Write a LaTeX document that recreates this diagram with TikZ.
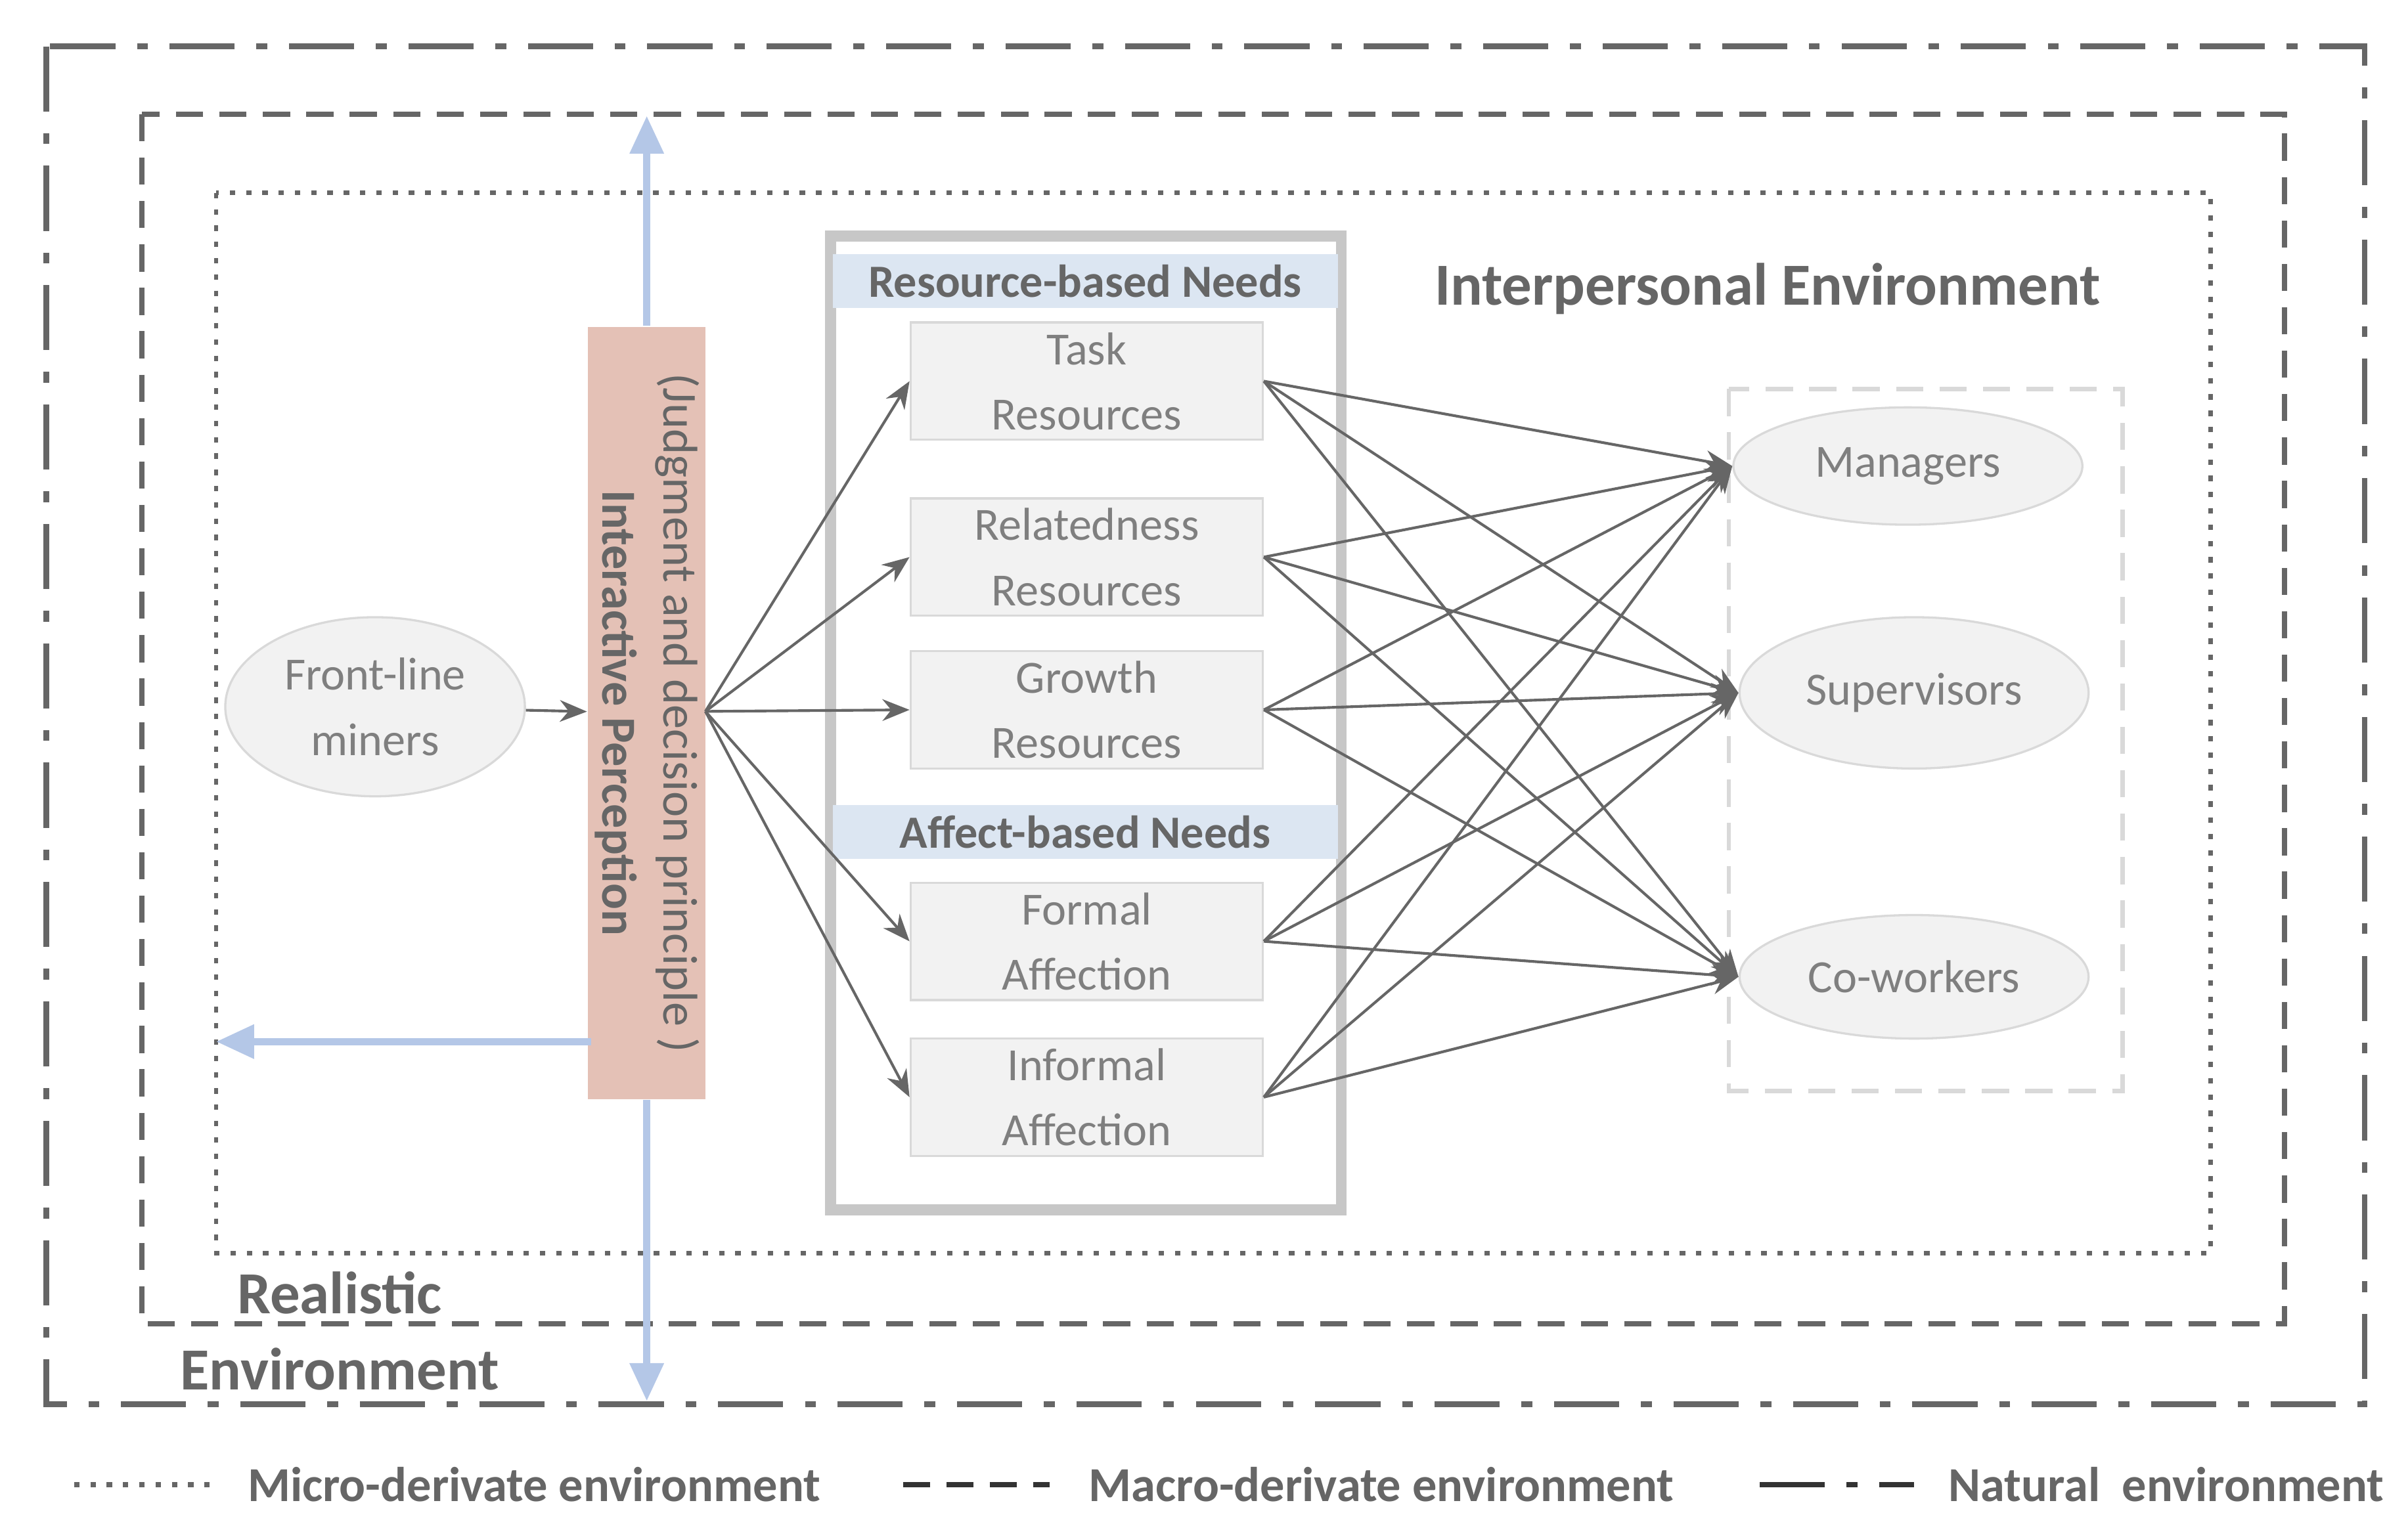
\documentclass[tikz,border=0pt]{standalone}
\usepackage{fontspec}
\setmainfont{Carlito}
\usetikzlibrary{arrows.meta,shapes.geometric}
\definecolor{txtgray}{HTML}{7F7F7F}
\definecolor{darkgray}{HTML}{666666}
\definecolor{boxfill}{HTML}{F2F2F2}
\definecolor{boxline}{HTML}{D9D9D9}
\definecolor{headblue}{HTML}{DCE6F2}
\definecolor{pinkbar}{HTML}{E4C1B6}
\definecolor{bluearrow}{HTML}{B4C7E7}
\tikzset{
	need/.style={rectangle, draw=boxline, fill=boxfill, text=txtgray,
		minimum width=2.28cm, minimum height=0.76cm, align=center,
		font=\fontsize{8.5}{10}\selectfont, inner sep=0pt},
	actor/.style={ellipse, draw=boxline, fill=boxfill, text=txtgray,
		align=center, font=\fontsize{8.5}{10}\selectfont, inner sep=0pt},
	header/.style={rectangle, fill=headblue, text=darkgray,
		minimum width=3.27cm, minimum height=0.35cm, inner sep=0pt,
		font=\bfseries\fontsize{8.5}{10}\selectfont},
	link/.style={-{Stealth[length=5pt,width=4pt]}, draw=darkgray, line width=0.5pt},
	flow/.style={-{Triangle[length=7pt,width=6pt]}, draw=bluearrow, line width=1.4pt},
	envtitle/.style={text=darkgray, font=\bfseries\fontsize{11}{13}\selectfont},
	legend/.style={text=darkgray, anchor=west, font=\bfseries\fontsize{9}{11}\selectfont}
}
\begin{document}
\begin{tikzpicture}[x={(0.01cm,0)}, y={(0,-0.01cm)}]
\useasboundingbox (0,0) rectangle (1560,990);
% environments
\draw[darkgray, line width=1pt, dash pattern=on 12pt off 4pt on 2pt off 4pt] (30,30) rectangle (1532,910);
\draw[darkgray, line width=1pt, dash pattern=on 5pt off 3pt] (92,74) rectangle (1480,858);
\draw[darkgray, line width=0.8pt, dash pattern=on 1pt off 2pt] (140,125) rectangle (1432,812);
\node[envtitle] (interpersonal) at (1145,187) {Interpersonal Environment};
\node[envtitle] (realistic) at (220,838) {Realistic};
\node[envtitle] (environment) at (220,887) {Environment};
% needs frame
\draw[boxline!80!gray, line width=2pt] (538,153) rectangle (869,784);
\node[header] (resneeds) at (703,182) {Resource-based Needs};
\node[header] (affneeds) at (703,539) {Affect-based Needs};
\node[need] (task) at (704,247) {Task\\[2pt]Resources};
\node[need] (related) at (704,361) {Relatedness\\[2pt]Resources};
\node[need] (growth) at (704,460) {Growth\\[2pt]Resources};
\node[need] (formal) at (704,610) {Formal\\[2pt]Affection};
\node[need] (informal) at (704,711) {Informal\\[2pt]Affection};
% perception bar
\node[rectangle, fill=pinkbar, minimum width=0.76cm, minimum height=5cm, inner sep=0pt] (bar) at (419,462) {};
\node[rotate=-90, text=darkgray, font=\bfseries\fontsize{9}{11}\selectfont] (percept) at (399,462) {Interactive Perception};
\node[rotate=-90, text=darkgray, font=\fontsize{9}{11}\selectfont] (principle) at (439,462) {(Judgment and decision principle )};
\coordinate (topend) at (419,75);
\coordinate (botend) at (419,908);
\coordinate (leftend) at (140,675);
\draw[flow] (bar.north) -- (topend);
\draw[flow] (bar.south) -- (botend);
\draw[flow] (383,675) -- (leftend);
% actors
\node[actor, minimum width=1.94cm, minimum height=1.16cm] (miners) at (243,458) {Front-line\\[2pt]miners};
\draw[boxline, line width=0.8pt, dash pattern=on 5pt off 3pt] (1120,252) rectangle (1375,707);
\node[actor, minimum width=2.26cm, minimum height=0.76cm] (managers) at (1236,302) {Managers};
\node[actor, minimum width=2.26cm, minimum height=0.98cm] (supervisors) at (1240,449) {Supervisors};
\node[actor, minimum width=2.26cm, minimum height=0.8cm] (coworkers) at (1240,633) {Co-workers};
% links
\draw[link] (miners) -- (bar);
\coordinate (barout) at (457,461);
\foreach \n in {task,related,growth,formal,informal}
	\draw[link] (barout) -- (\n.west);
\foreach \n in {task,related,growth,formal,informal}
	\foreach \m in {managers,supervisors,coworkers}
		\draw[link] (\n.east) -- (\m.west);
% legend
\draw[darkgray, line width=1pt, dash pattern=on 1pt off 2pt] (48,962) -- (138,962);
\node[legend] (micro) at (148,962) {Micro-derivate environment};
\draw[black!80, line width=1pt, dash pattern=on 5pt off 3pt] (585,962) -- (680,962);
\node[legend] (macro) at (693,962) {Macro-derivate environment};
\draw[black!80, line width=1pt, dash pattern=on 12pt off 4pt on 2pt off 4pt] (1140,962) -- (1240,962);
\node[legend] (natural) at (1250,962) {Natural~ environment};
\end{tikzpicture}
\end{document}
